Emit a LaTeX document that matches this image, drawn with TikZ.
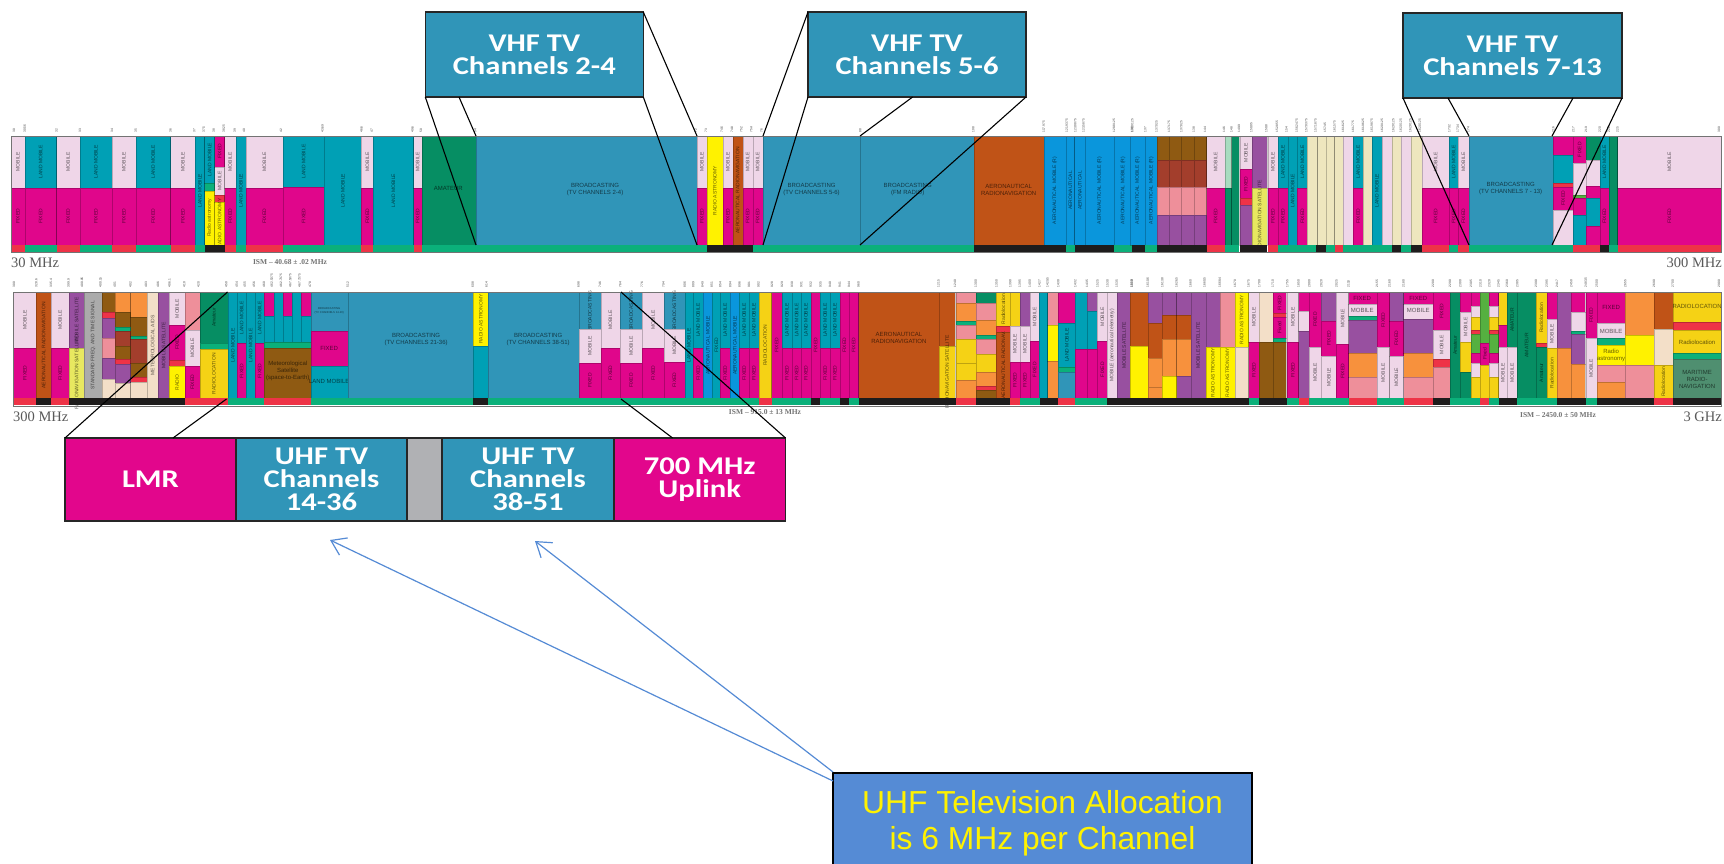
\documentclass[tikz,border=0pt]{standalone}
\usepackage{fontspec}
\setmainfont{Liberation Sans}
\newfontfamily\serifcap{Liberation Serif}
\newfontfamily\callfont[FakeStretch=1.2]{Carlito}
\usetikzlibrary{arrows.meta}
\definecolor{pk}{HTML}{E0068B}
\definecolor{li}{HTML}{EFD6E8}
\definecolor{te}{HTML}{00A0B5}
\definecolor{bc}{HTML}{3095B8}
\definecolor{gr}{HTML}{068E63}
\definecolor{bg}{HTML}{0BB07A}
\definecolor{rd}{HTML}{EE3347}
\definecolor{ye}{HTML}{FFF200}
\definecolor{go}{HTML}{F5D215}
\definecolor{br}{HTML}{C05317}
\definecolor{ab}{HTML}{0A96DC}
\definecolor{dk}{HTML}{8F5A12}
\definecolor{rb}{HTML}{A33E2C}
\definecolor{sa}{HTML}{EE8F9A}
\definecolor{pu}{HTML}{9850A0}
\definecolor{cr}{HTML}{EEE6BE}
\definecolor{cq}{HTML}{F3DFC8}
\definecolor{gy}{HTML}{ABABAB}
\definecolor{ora}{HTML}{F7913D}
\definecolor{lg}{HTML}{A8DCC0}
\definecolor{yg}{HTML}{E8E860}
\definecolor{lb}{HTML}{55B040}
\definecolor{sg}{HTML}{4F8F70}
\definecolor{bk}{HTML}{1E1C1C}
\definecolor{boxblue}{HTML}{558BD5}
\definecolor{callteal}{HTML}{3095B8}
\definecolor{callpink}{HTML}{E2068C}
\definecolor{callgray}{HTML}{B0B1B4}
\newcounter{lc}
\tikzset{
  seg/.style={draw=black,draw opacity=.22,line width=.25pt},
  lab/.style={font=\fontsize{5}{5}\selectfont,text=black,text opacity=.6,inner sep=0pt,rotate=90},
  labh/.style={font=\fontsize{6}{7}\selectfont,text=black,text opacity=.6,inner sep=0pt,align=center},
  ticklab/.style={font=\fontsize{3.2}{3.2}\selectfont,text=black!75,inner sep=0pt,rotate=90,anchor=west},
  freqcap/.style={font=\serifcap\fontsize{14.5}{14.5}\selectfont,text=black!65,inner sep=0pt},
  ismcap/.style={font=\serifcap\bfseries\fontsize{7.5}{7.5}\selectfont,text=black!55,inner sep=0pt},
  callbox/.style={draw=black!85,line width=1.1pt,inner sep=0pt,outer sep=0pt,align=center,text=white,
    font=\callfont\bfseries\fontsize{25.5}{23}\selectfont},
  leader/.style={draw=black,line width=1.1pt},
  bluearrow/.style={draw=boxblue,line width=1.2pt,-{Straight Barb[length=14pt,width=19pt,line width=1.2pt]}},
}
\newcommand{\B}[5]{\path[seg,fill=#5] (#1,#2) rectangle (#3,#4);}
\newcommand{\Lab}[5]{\stepcounter{lc}\node[lab] (n\arabic{lc}) at ({(#1+#3)/2},{(#2+#4)/2}) {#5};}
\def\dashmark{-}
\newcommand{\Col}[3]{\xdef\prevy{\topY}\foreach \cc/\yy/\lbl in {#3}{%
  \B{#1}{\prevy}{#2}{\yy}{\cc}%
  \ifx\lbl\dashmark\else\Lab{#1}{\prevy}{#2}{\yy}{\lbl}\fi
  \xdef\prevy{\yy}}}
\newcommand{\MF}[2]{\Col{#1}{#2}{li/\splitY/MOBILE,pk/\baseY/FIXED}}
\newcommand{\TF}[2]{\Col{#1}{#2}{te/\splitY/LAND MOBILE,pk/\baseY/FIXED}}
\newcommand{\TT}[2]{\Col{#1}{#2}{te/\baseY/LAND MOBILE}}
\newcommand{\Bo}[3]{\path[fill=#3] (#1,\baseY) rectangle (#2,\endY);}
\newcommand{\Ticks}[2]{\foreach \xx/\vv in {#2}{\stepcounter{lc}\node[ticklab] (n\arabic{lc}) at (\xx,#1) {\vv};}}
\newcommand{\HL}[3]{\stepcounter{lc}\node[labh] (n\arabic{lc}) at (#1,#2) {#3};}
\begin{document}
\begin{tikzpicture}[x=1pt,y=-1pt]
\useasboundingbox (0,0) rectangle (1724,864);
\fill[white] (0,0) rectangle (1724,864);

% ===== Strip 1, 30-300 MHz =====
\def\topY{108}\def\splitY{263}\def\baseY{435}\def\endY{455}
\begin{scope}[shift={(0pt,-100pt)},x=0.36990pt,y=-0.33333pt]
\MF{30}{67}\TF{67}{153}\MF{153}{216}\TF{216}{303}\MF{303}{367}\TF{367}{461}\MF{461}{528}
\TT{528}{553}
\Col{553}{580}{te/250/LAND MOBILE,bg/272/-,ye/435/Radio astronomy}
\Col{580}{607}{pk/200/FIXED,li/285/MOBILE,rd/305/-,ye/435/RADIO ASTRONOMY}
\MF{607}{637}\TT{637}{665}\MF{665}{765}
\Col{765}{877}{te/260/LAND MOBILE,pk/435/FIXED}
\TT{877}{977}\MF{977}{1009}\TT{1009}{1118}\MF{1118}{1140}
\Col{1140}{1287}{gr/435/-}
\HL{1212}{266}{AMATEUR}
\B{1287}{108}{1884}{435}{bc}
\Bo{30}{67}{rd}\Bo{67}{153}{bg}\Bo{153}{216}{rd}\Bo{216}{303}{bg}\Bo{303}{367}{rd}\Bo{367}{461}{bg}\Bo{461}{528}{rd}
\Bo{528}{553}{bg}\Bo{553}{607}{bk}\Bo{607}{637}{rd}\Bo{637}{665}{bg}\Bo{665}{765}{rd}\Bo{765}{977}{bg}\Bo{977}{1009}{rd}\Bo{1009}{1118}{bg}\Bo{1118}{1140}{rd}\Bo{1140}{1570}{bg}
\Ticks{98}{38/30,67/30.56,153/32,216/33,303/34,367/35,461/36,525/37,551/37.5,578/38,605/38.25,635/39,660/40,760/42,872/43.69,977/46.6,1005/47,1115/49.6,1138/50,1285/54}
\end{scope}
\begin{scope}[shift={(560pt,-100pt)},x=0.36990pt,y=-0.33333pt]
\HL{95}{270}{BROADCASTING\\(TV CHANNELS 2-4)}
\MF{370}{397}
\Col{397}{441}{ye/435/RADIO ASTRONOMY}
\MF{441}{467}
\Col{467}{494}{br/435/AERONAUTICAL RADIONAVIGATION}
\MF{494}{521}\MF{521}{548}
\B{548}{108}{810}{435}{bc}\B{810}{108}{1119}{435}{bc}
\HL{680}{270}{BROADCASTING\\(TV CHANNELS 5-6)}
\HL{940}{270}{BROADCASTING\\(FM RADIO)}
\B{1119}{108}{1308}{435}{br}
\HL{1213}{270}{AERONAUTICAL\\RADIONAVIGATION}
\Col{1308}{1368}{ab/435/AERONAUTICAL MOBILE (R)}
\Col{1368}{1391}{ab/435/AERONAUTICAL}
\Col{1391}{1420}{ab/435/AERONAUTICAL}
\Col{1420}{1497}{ab/435/AERONAUTICAL MOBILE (R)}
\Col{1497}{1547}{ab/435/AERONAUTICAL MOBILE (R)}
\Col{1547}{1570}{ab/435/AERONAUTICAL MOBILE}
\Bo{0}{397}{bg}\Bo{397}{521}{bk}\Bo{521}{1119}{bg}\Bo{1119}{1368}{bk}\Bo{1368}{1391}{bg}\Bo{1391}{1497}{bk}\Bo{1497}{1547}{bg}\Bo{1547}{1570}{bk}
\Ticks{98}{367/72,395/73,437/74.6,465/74.8,490/75.2,517/75.4,545/76,812/88,1117/108,1308/117.975,1370/121.9375,1393/123.0875,1415/123.5875,1498/128.8125,1547/132.0125}
\end{scope}
\begin{scope}[shift={(1130pt,-100pt)},x=0.37883pt,y=-0.33333pt]
\Col{0}{40}{ab/435/AERONAUTICAL MOBILE (R)}
\Col{40}{72}{ab/435/AERONAUTICAL MOBILE (R)}
\foreach \xa/\xb in {72/103,103/135,135/168,168/202}{\Col{\xa}{\xb}{dk/180/-,rb/262/-,sa/345/-,pu/435/-}}
\MF{202}{250}
\Col{250}{268}{lg/263/-,gr/435/-}
\Col{268}{288}{gr/435/-}
\Col{290}{322}{li/208/MOBILE,pk/295/FIXED,rd/315/-,pu/435/-}
\Col{322}{362}{pu/265/-,yg/435/RADIONAVIGATION SATELLITE}
\MF{365}{390}\TF{390}{417}\TT{417}{442}\TF{442}{468}
\Col{468}{495}{cr/435/-}\Col{495}{518}{cr/435/-}\Col{518}{540}{cr/435/-}\Col{540}{562}{cr/435/-}
\Col{562}{589}{li/435/-}\TF{589}{615}\Col{615}{638}{cr/435/-}\TT{638}{665}\Col{665}{691}{li/435/-}\Col{691}{716}{cr/435/-}\Col{716}{742}{li/435/-}\Col{742}{770}{cr/435/-}
\MF{770}{843}\TF{843}{865}\MF{865}{895}
\B{895}{108}{1117}{435}{bc}
\HL{1005}{265}{BROADCASTING\\(TV CHANNELS 7 - 13)}
\Col{1117}{1170}{pk/165/-,te/250/-,rd/260/-,pk/330/FIXED,li/435/-}
\Col{1170}{1204}{pk/190/FIXED,li/285/-,lb/295/-,pk/345/-,te/435/-}
\Col{1204}{1240}{gr/180/-,li/258/-,pk/295/-,te/378/-,pk/435/-}
\TF{1240}{1264}
\Col{1264}{1287}{gr/435/-}
\MF{1287}{1560}
\Bo{5}{40}{bk}\Bo{40}{72}{bg}\Bo{72}{202}{bk}\Bo{202}{250}{rd}\Bo{250}{288}{bg}\Bo{290}{362}{bk}\Bo{365}{390}{rd}\Bo{390}{492}{bg}\Bo{492}{518}{bk}\Bo{518}{540}{bg}\Bo{540}{562}{rd}\Bo{562}{692}{bg}\Bo{692}{716}{bk}\Bo{716}{742}{bg}\Bo{742}{770}{bk}\Bo{770}{843}{rd}\Bo{843}{865}{bg}\Bo{865}{895}{rd}\Bo{895}{1170}{bg}\Bo{1170}{1240}{rd}\Bo{1240}{1264}{bk}\Bo{1264}{1287}{bg}\Bo{1287}{1560}{rd}
\Ticks{98}{5/136,40/137,70/137.025,103/137.175,135/137.825,168/138,198/144,248/146,268/148,288/149.9,320/150.05,360/150.8,388/152.855,413/154,440/156.2475,465/157.0375,490/157.1875,515/157.45,540/161.575,562/161.625,589/161.775,615/161.9625,638/161.9875,665/162.0125,695/162.0125,715/162.0125,740/162.0125,765/162.0125,843/173.2,865/173.4,893/174,1117/216,1170/217,1204/219,1240/220,1264/222,1287/225,1555/300}
\end{scope}

% ===== Strip 2, 300 MHz-3 GHz =====
\def\topY{67}\def\splitY{233}\def\baseY{385}\def\endY{406}
\begin{scope}[shift={(0pt,-270pt)},x=0.36990pt,y=-0.33333pt]
\MF{36}{98}
\Col{98}{138}{br/385/AERONAUTICAL RADIONAVIGATION}
\MF{138}{187}
\Col{187}{227}{pu/233/MOBILE SATELLITE,yg/385/RADIONAVIGATION SATELLITE}
\Col{227}{276}{gy/385/STANDARD FREQ. AND TIME SIGNAL}
\Col{276}{310}{dk/125/-,rd/145/-,pu/205/-,sa/265/-,pu/328/-,cq/385/-}
\Col{310}{353}{ora/125/-,dk/170/-,bg/182/-,rb/228/-,dk/268/-,rd/283/-,pu/340/-,cq/385/-}
\Col{353}{398}{ora/140/-,dk/197/-,bg/208/-,rb/278/-,dk/322/-,rd/337/-,cq/385/-}
\Col{398}{427}{cq/385/METEOROLOGICAL AIDS}
\Col{427}{458}{pu/385/MOBILE SATELLITE}
\Col{458}{500}{li/165/MOBILE,pk/270/FIXED,rd/288/-,ye/385/RADIO}
\Col{500}{540}{sa/180/-,li/288/MOBILE,pk/385/FIXED}
\Col{540}{617}{gr/218/Amateur,bg/237/-,go/385/RADIOLOCATION}
\TT{617}{642}
\Col{642}{665}{te/220/LAND MOBILE,pk/385/FIXED}
\TT{665}{690}
\Col{690}{714}{te/220/LAND MOBILE,pk/385/FIXED}
\Col{714}{740}{pk/138/-,te/215/-}\Col{740}{765}{te/215/-}\Col{765}{790}{pk/138/-,te/215/-}\Col{790}{815}{te/215/-}\Col{815}{842}{pk/138/-,te/215/-}
\B{714}{215}{842}{233}{bg}\B{714}{233}{842}{385}{dk}
\HL{778}{303}{Meteorological\\Satellite\\(space-to-Earth)}
\Col{842}{940}{bc/183/-,pk/288/-,te/385/-}
\stepcounter{lc}\node[labh,font=\fontsize{2.8}{3.4}\selectfont] (n\arabic{lc}) at (890,122) {BROADCASTING\\(TV CHANNELS 14-20)};
\HL{890}{234}{FIXED}
\HL{890}{335}{LAND MOBILE}
\B{940}{67}{1280}{385}{bc}
\HL{1125}{208}{BROADCASTING\\(TV CHANNELS 21-36)}
\Col{1280}{1320}{ye/227/RADIO ASTRONOMY,te/385/-}
\B{1320}{67}{1566}{385}{bc}
\HL{1455}{208}{BROADCASTING\\(TV CHANNELS 38-51)}
\Bo{36}{98}{rd}\Bo{98}{138}{bk}\Bo{138}{187}{rd}\Bo{187}{500}{bk}\Bo{500}{617}{rd}\Bo{617}{715}{bg}\Bo{715}{842}{rd}\Bo{842}{1280}{bg}\Bo{1280}{1320}{bk}\Bo{1320}{1570}{bg}
\Ticks{52}{38/300,98/328.6,138/335.4,185/399.9,222/400.05,272/400.15,310/401,353/402,395/403,427/406,458/406.1,498/410,537/420,612/450,640/454,662/455,687/456,714/460,735/462.5375,760/462.7375,785/467.5375,810/467.7375,838/470,940/512,1278/608,1315/614}
\end{scope}
\begin{scope}[shift={(560pt,-270pt)},x=0.36990pt,y=-0.33333pt]
\Col{52}{110}{bc/178/BROADCASTING,li/278/MOBILE,pk/385/FIXED}
\Col{110}{163}{li/233/MOBILE,pk/385/FIXED}
\Col{163}{222}{bc/178/BROADCASTING,li/278/MOBILE,pk/385/FIXED}
\Col{222}{281}{li/233/MOBILE,pk/385/FIXED}
\Col{281}{337}{bc/178/BROADCASTING,li/275/MOBILE,pk/385/FIXED}
\TT{337}{360}\TF{360}{387}
\Col{387}{412}{ab/385/AERONAUTICAL MOBILE}
\Col{412}{433}{te/385/FIXED}
\TF{433}{460}
\Col{460}{485}{ab/385/AERONAUTICAL MOBILE}
\TF{485}{511}\TF{511}{537}
\Col{537}{572}{go/385/RADIOLOCATION}
\Col{572}{600}{pk/385/FIXED}
\TF{600}{627}\TF{627}{652}\TF{652}{678}
\Col{678}{704}{pk/385/FIXED}
\TF{704}{730}\TF{730}{756}
\Col{756}{781}{pk/385/FIXED}\Col{781}{807}{pk/385/FIXED}
\B{807}{67}{1025}{385}{br}
\HL{916}{203}{AERONAUTICAL\\RADIONAVIGATION}
\Col{1025}{1068}{br/228/-,go/385/RADIONAVIGATION SATELLITE}
\Col{1070}{1124}{sa/100/-,ora/152/-,bg/165/-,sa/208/-,go/280/-,go/330/-,ora/385/-}
\Col{1124}{1180}{gr/98/-,sa/150/-,ora/195/-,bg/207/-,sa/252/-,go/305/-,ora/348/-,rd/360/-,dk/385/-}
\Col{1180}{1217}{go/168/Radiolocation,rd/185/-,br/385/AERONAUTICAL RADIONAV.}
\Col{1217}{1243}{go/168/-,li/275/MOBILE,pk/385/FIXED}
\Col{1243}{1270}{pu/168/-,li/275/MOBILE,pk/385/FIXED}
\Col{1270}{1296}{li/213/MOBILE,pk/385/FIXED}
\Col{1296}{1318}{te/385/-}
\Col{1318}{1347}{sa/165/-,ye/272/-,ora/385/-}
\Col{1347}{1393}{pk/160/-,te/290/LAND MOBILE,bg/305/-,bc/385/-}
\Col{1393}{1425}{te/237/-,pk/385/-}
\Col{1425}{1453}{pu/122/-,te/237/-,pk/385/-}
\Col{1453}{1480}{li/213/MOBILE,pk/385/FIXED}
\Col{1480}{1505}{li/385/MOBILE (aeronautical telemetry)}
\Col{1505}{1545}{pu/385/MOBILE SATELLITE}
\Col{1545}{1570}{br/228/-,go/385/-}
\Bo{0}{537}{bg}\Bo{537}{572}{rd}\Bo{572}{678}{bg}\Bo{678}{704}{bk}\Bo{704}{756}{bg}\Bo{756}{781}{bk}\Bo{781}{807}{bg}\Bo{807}{1070}{bk}\Bo{1070}{1124}{rd}\Bo{1124}{1217}{bk}\Bo{1217}{1243}{rd}\Bo{1243}{1297}{bg}\Bo{1297}{1347}{bk}\Bo{1347}{1393}{rd}\Bo{1393}{1480}{bg}\Bo{1480}{1570}{bk}
\Ticks{52}{50/698,108/746,163/764,222/776,280/794,337/806,360/809,385/849,410/851,433/854,460/894,485/896,511/901,537/902,573/928,600/929,627/930,652/931,678/932,704/935,730/940,756/941,781/944,807/960,1023/1215,1068/1240,1124/1300,1180/1350,1217/1390,1243/1395,1270/1400,1296/1427,1318/1429.5,1347/1430,1393/1432,1425/1435,1453/1525,1480/1530,1505/1535,1545/1559}
\end{scope}
\begin{scope}[shift={(1130pt,-270pt)},x=0.37883pt,y=-0.33333pt]
\Col{0}{47}{br/228/-,ye/385/-}
\Col{47}{85}{pu/160/-,br/265/-,ora/350/-,ora/385/-}
\Col{85}{123}{pu/135/-,br/208/-,ora/318/-,ye/385/-}
\Col{123}{160}{pu/135/-,br/208/-,ora/318/-,pu/385/-}
\Col{160}{200}{pu/385/MOBILE SATELLITE}
\Col{200}{237}{pu/232/-,ye/385/RADIO ASTRONOMY}
\Col{237}{277}{sa/232/-,ye/385/RADIO ASTRONOMY}
\Col{277}{313}{ye/232/RADIO ASTRONOMY,cq/385/-}
\Col{313}{341}{li/215/MOBILE,pk/385/FIXED}
\Col{341}{377}{cq/215/-,dk/385/-}
\Col{377}{413}{pk/130/FIXED,rd/140/-,pk/205/Fixed,bg/215/-,dk/385/-}
\Col{415}{445}{li/215/MOBILE,pk/385/FIXED}
\Col{445}{473}{pk/122/-,li/182/-,pu/385/-}
\Col{473}{505}{pk/230/FIXED,li/385/MOBILE}
\Col{505}{545}{pu/152/-,pk/258/FIXED,li/385/MOBILE}
\Col{545}{577}{li/222/MOBILE,pk/385/FIXED}
\Col{577}{652}{pk/103/-,li/137/-,bg/150/-,pu/248/-,ora/320/-,sa/385/-}
\HL{613}{85}{FIXED}\HL{613}{120}{MOBILE}
\Col{652}{685}{pk/232/FIXED,li/385/MOBILE}
\Col{685}{722}{pu/152/-,pk/258/FIXED,li/385/MOBILE}
\Col{722}{800}{pk/103/-,li/148/-,pu/250/-,ora/322/-,sa/385/-}
\HL{761}{85}{FIXED}\HL{761}{122}{MOBILE}
\Col{800}{845}{pk/180/FIXED,li/268/MOBILE,rd/292/-,sa/385/-}
\Col{845}{872}{gr/385/Amateur}
\Col{872}{900}{pk/125/-,li/215/MOBILE,go/305/-,gr/385/-}
\Col{900}{925}{pk/108/-,li/140/-,go/180/-,rd/192/-,lb/248/-,pk/278/-,li/320/-,go/385/-}
\Col{925}{948}{lb/218/-,pk/285/Fixed,go/385/-}
\Col{948}{973}{pk/108/-,li/140/-,go/180/-,rd/192/-,lb/248/-,pk/278/-,li/320/-,go/385/-}
\Col{973}{995}{go/165/-,pk/232/-,li/385/MOBILE}
\Col{995}{1022}{gr/232/AMATEUR,li/385/MOBILE}
\Col{1022}{1072}{gr/385/AMATEUR}
\Col{1072}{1100}{go/220/Radiolocation,rd/232/-,gr/385/Amateur}
\Col{1100}{1127}{pk/148/-,li/235/MOBILE,go/385/Radiolocation}
\Col{1127}{1165}{pu/235/-,ora/385/-}
\Col{1165}{1202}{pk/125/-,li/182/-,bg/192/-,pu/282/-,ora/385/-}
\Col{1203}{1232}{pk/205/FIXED,li/385/MOBILE}
\Col{1232}{1307}{pk/160/-,li/205/-,bg/225/-,ye/285/-,sa/335/-,ora/385/-}
\HL{1270}{112}{FIXED}\HL{1270}{183}{MOBILE}\HL{1270}{255}{Radio\\astronomy}
\Col{1307}{1383}{ora/195/-,ye/285/-,sa/385/-}
\Col{1383}{1433}{br/178/-,cq/285/-,go/385/Radiolocation}
\Col{1433}{1560}{go/155/-,rd/180/-,go/248/-,bg/268/-,sg/385/-}
\HL{1497}{110}{RADIOLOCATION}\HL{1497}{218}{Radiolocation}\HL{1497}{328}{MARITIME\\RADIO-\\NAVIGATION}
\Bo{0}{313}{bk}\Bo{313}{341}{bg}\Bo{341}{415}{bk}\Bo{415}{445}{bg}\Bo{445}{473}{rd}\Bo{473}{577}{bg}\Bo{577}{652}{rd}\Bo{652}{722}{bg}\Bo{722}{800}{rd}\Bo{800}{845}{bk}\Bo{845}{925}{bg}\Bo{925}{948}{rd}\Bo{948}{975}{bg}\Bo{975}{1022}{bk}\Bo{1022}{1127}{bg}\Bo{1127}{1203}{bk}\Bo{1203}{1232}{bg}\Bo{1232}{1382}{bk}\Bo{1382}{1433}{rd}\Bo{1433}{1560}{bk}
\Ticks{52}{5/1610,47/1610.6,85/1613.8,123/1626.5,160/1660,197/1660.5,237/1668.4,277/1670,313/1675,341/1700,377/1710,415/1755,445/1850,473/2000,505/2020,545/2025,577/2110,652/2155,685/2160,722/2180,800/2200,845/2290,872/2300,900/2305,925/2310,948/2320,973/2345,995/2360,1022/2385,1072/2390,1100/2395,1127/2417,1165/2450,1203/2483.5,1232/2500,1307/2655,1383/2690,1433/2700,1555/2900}
\end{scope}

% strip outlines
\draw[black!55,line width=.8pt] (11,136) rectangle (1721,252);
\draw[black!55,line width=.8pt] (13,292) rectangle (1721,406);

% captions
\node[freqcap,anchor=west] (c30) at (11,263) {30 MHz};
\node[freqcap,anchor=east] (c300a) at (1722,263) {300 MHz};
\node[freqcap,anchor=west] (c300b) at (13,417) {300 MHz};
\node[freqcap,anchor=east] (c3g) at (1722,417) {3 GHz};
\node[ismcap] (i1) at (290,262) {ISM – 40.68 ± .02 MHz};
\node[ismcap] (i2) at (765,412) {ISM – 915.0 ± 13 MHz};
\node[ismcap] (i3) at (1558,415) {ISM – 2450.0 ± 50 MHz};

% call-out boxes
\node[callbox,fill=callteal,minimum width=218pt,minimum height=85pt] (v24) at (534.3,54.5) {VHF TV\\Channels 2-4};
\node[callbox,fill=callteal,minimum width=218pt,minimum height=85pt] (v56) at (917,54.5) {VHF TV\\Channels 5-6};
\node[callbox,fill=callteal,minimum width=219pt,minimum height=85pt] (v713) at (1512.5,55.5) {VHF TV\\Channels 7-13};
\node[callbox,fill=callpink,minimum width=171pt,minimum height=83pt] (lmr) at (150.5,479.5) {LMR};
\node[callbox,fill=callteal,minimum width=171pt,minimum height=83pt] (u14) at (321.5,479.5) {UHF TV\\Channels\\14-36};
\node[callbox,fill=callgray,minimum width=35pt,minimum height=83pt] (gap) at (424.5,479.5) {};
\node[callbox,fill=callteal,minimum width=172pt,minimum height=83pt] (u38) at (528,479.5) {UHF TV\\Channels\\38-51};
\node[callbox,fill=callpink,minimum width=171.5pt,minimum height=83pt] (u700) at (699.75,479.5) {700 MHz\\Uplink};
\node[draw=black,line width=1.4pt,fill=boxblue,inner sep=0pt,outer sep=0pt,minimum width=419pt,minimum height=101pt,align=center,text=yellow,font=\fontsize{31.8}{36}\selectfont] (uhf) at (1042.5,823.5) {UHF Television Allocation\\is 6 MHz per Channel};

% leader-line anchors
\coordinate (a1) at (476,245);
\coordinate (a2s) at (459,97);
\coordinate (a2) at (476,136);
\coordinate (a3) at (697,136);
\coordinate (a4) at (697,245);
\coordinate (b1) at (763,136);
\coordinate (b2) at (763,245);
\coordinate (b3s) at (912.6,97);
\coordinate (b3) at (860,136);
\coordinate (b4) at (860,245);
\coordinate (d1) at (1469,245);
\coordinate (d2s) at (1448,98);
\coordinate (d2) at (1469,136);
\coordinate (d3s) at (1573,98);
\coordinate (d3) at (1552,136);
\coordinate (d4) at (1552,245);
\coordinate (e1) at (227.5,292);
\coordinate (e2s) at (173,438);
\coordinate (e2) at (226.5,399);
\coordinate (f1) at (621,292);
\coordinate (f2s) at (672.6,438);
\coordinate (f2) at (621,399);
\draw[leader] (v24.south west) -- (a1);
\draw[leader] (a2s) -- (a2);
\draw[leader] (v24.north east) -- (a3);
\draw[leader] (v24.south east) -- (a4);
\draw[leader] (v56.north west) -- (b1);
\draw[leader] (v56.south west) -- (b2);
\draw[leader] (b3s) -- (b3);
\draw[leader] (v56.south east) -- (b4);
\draw[leader] (v713.south west) -- (d1);
\draw[leader] (d2s) -- (d2);
\draw[leader] (d3s) -- (d3);
\draw[leader] (v713.south east) -- (d4);
\draw[leader] (lmr.north west) -- (e1);
\draw[leader] (e2s) -- (e2);
\draw[leader] (u700.north east) -- (f1);
\draw[leader] (f2s) -- (f2);

% blue arrows
\coordinate (t1s) at (833,781);
\coordinate (t1) at (330,540);
\coordinate (t2s) at (833,772);
\coordinate (t2) at (535,541);
\draw[bluearrow] (t1s) -- (t1);
\draw[bluearrow] (t2s) -- (t2);
\end{tikzpicture}
\end{document}
